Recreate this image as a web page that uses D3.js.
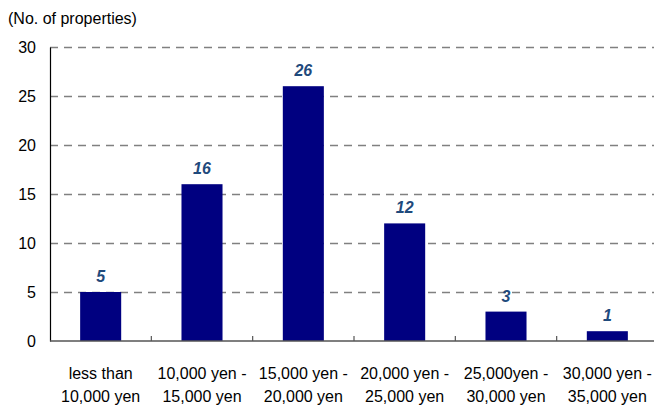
<!DOCTYPE html>
<html>
<head>
<meta charset="utf-8">
<script src="https://cdn.jsdelivr.net/npm/d3@7"></script>
<style>
  html, body { margin: 0; padding: 0; background: #fff; }
  svg { display: block; font-family: "Liberation Sans", Arial, sans-serif; }
</style>
</head>
<body>
<svg id="chart" width="654" height="406"></svg>
<script>
// Rent bands (two-line category labels)
const categories = [
  ["less than", "10,000 yen"],
  ["10,000 yen -", "15,000 yen"],
  ["15,000 yen -", "20,000 yen"],
  ["20,000 yen -", "25,000 yen"],
  ["25,000yen -", "30,000 yen"],
  ["30,000 yen -", "35,000 yen"]
];
const counts = [5, 16, 26, 12, 3, 1];
const yTicks = [0, 5, 10, 15, 20, 25, 30];
const yTitle = "(No. of properties)";

const svg = d3.select("#chart");
const plotLeft = 50, plotRight = 658, plotTop = 47, plotBottom = 341;
const fontSize = 16;

const keys = categories.map((c, i) => i);
const x = d3.scaleBand().domain(keys).range([plotLeft, plotRight]).paddingInner(0.595).paddingOuter(0.2975);
const xCat = d3.scaleBand().domain(keys).range([plotLeft, plotRight]);
const y = d3.scaleLinear().domain([0, 30]).range([plotBottom, plotTop]);

// Dashed horizontal gridlines
svg.append("g")
  .selectAll("line")
  .data(yTicks.filter(d => d > 0))
  .join("line")
  .attr("x1", plotLeft).attr("x2", 654)
  .attr("y1", d => y(d) + 0.5).attr("y2", d => y(d) + 0.5)
  .attr("stroke", "#808080")
  .attr("stroke-width", 1.6)
  .attr("stroke-dasharray", "8,6");

// Bars
svg.append("g")
  .selectAll("rect")
  .data(counts)
  .join("rect")
  .attr("x", (d, i) => x(i))
  .attr("width", x.bandwidth())
  .attr("y", d => y(d))
  .attr("height", d => y(0) - y(d))
  .attr("fill", "#000080");

// Value labels
svg.append("g")
  .selectAll("text")
  .data(counts)
  .join("text")
  .attr("x", (d, i) => x(i) + x.bandwidth() / 2)
  .attr("y", d => y(d) - 10)
  .attr("text-anchor", "middle")
  .attr("font-size", 16)
  .attr("font-weight", "bold")
  .attr("font-style", "italic")
  .attr("fill", "#1f4a7c")
  .text(d => d);

// Y axis
const yAxis = svg.append("g")
  .attr("transform", `translate(${plotLeft},0)`)
  .call(d3.axisLeft(y).tickValues(yTicks).tickSize(0).tickPadding(14));
yAxis.select(".domain").attr("stroke", "#000").attr("stroke-width", 1.2);
yAxis.selectAll("text").attr("font-size", fontSize).attr("fill", "#000")
  .attr("font-family", "Liberation Sans, Arial, sans-serif");

// X axis with category boundary ticks
const xAxis = svg.append("g").attr("transform", `translate(0,${plotBottom})`);
xAxis.append("line")
  .attr("x1", plotLeft).attr("x2", 654)
  .attr("y1", 0).attr("y2", 0)
  .attr("stroke", "#555").attr("stroke-width", 1.6);
xAxis.selectAll("line.tick")
  .data(keys.slice(1))
  .join("line")
  .attr("class", "tick")
  .attr("x1", d => xCat(d)).attr("x2", d => xCat(d))
  .attr("y1", 0).attr("y2", -5)
  .attr("stroke", "#555").attr("stroke-width", 1.2);

const labels = xAxis.selectAll("text")
  .data(categories)
  .join("text")
  .attr("text-anchor", "middle")
  .attr("font-size", fontSize)
  .attr("fill", "#000");
labels.each(function (lines, i) {
  const t = d3.select(this);
  lines.forEach((ln, j) => {
    t.append("tspan")
      .attr("x", xCat(i) + xCat.bandwidth() / 2)
      .attr("y", 38 + j * 23)
      .text(ln);
  });
});

// Axis title
svg.append("text")
  .attr("x", 8).attr("y", 24)
  .attr("font-size", fontSize)
  .attr("fill", "#000")
  .text(yTitle);
</script>
</body>
</html>
